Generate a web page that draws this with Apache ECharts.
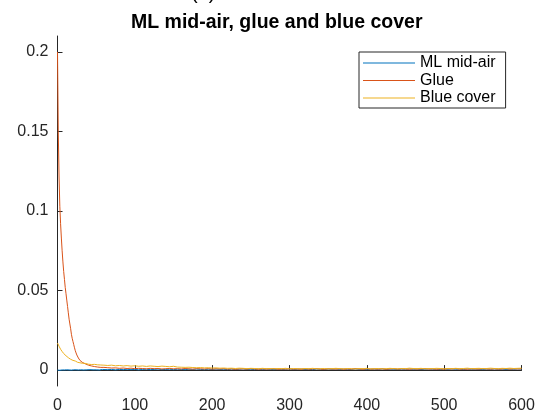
<!DOCTYPE html>
<html>
<head>
<meta charset="utf-8">
<script src="https://cdn.jsdelivr.net/npm/echarts@6/dist/echarts.min.js"></script>
<style>
  html, body { margin: 0; padding: 0; background: #fff; }
  #chart { width: 539px; height: 417px; }
</style>
</head>
<body>
<div id="chart"></div>
<script>
// sample positions (dense at the start where Glue drops fast)
var xs = [
  0,1,2,3,4,5,6,7,8,9,10,11,12,13,14,15,16,17,18,19,20,21,22,23,24,25,26,27,28,29,30,
  32,34,36,38,40,42,44,46,48,50,52,54,56,58,60,
  65,70,75,80,85,90,95,100,105,110,115,120,125,130,135,140,145,150,155,160,
  165,170,175,180,185,190,195,200,205,210,215,220,225,230,235,240,245,250,255,260,
  265,270,275,280,285,290,295,300,305,310,315,320,325,330,335,340,345,350,355,360,
  365,370,375,380,385,390,395,400,405,410,415,420,425,430,435,440,445,450,455,460,
  465,470,475,480,485,490,495,500,505,510,515,520,525,530,535,540,545,550,555,560,
  565,570,575,580,585,590,595,600
];

var midAir = [
  0.0000,0.0001,0.0000,-0.0001,0.0001,0.0000,0.0001,0.0002,0.0000,0.0001,0.0001,0.0000,0.0002,0.0001,0.0000,0.0001,
  0.0002,0.0001,0.0000,0.0002,0.0001,0.0002,0.0001,0.0000,0.0002,0.0001,0.0003,0.0001,0.0002,0.0001,0.0002,
  0.0002,0.0001,0.0003,0.0002,0.0001,0.0003,0.0002,0.0002,0.0004,0.0002,0.0003,0.0001,0.0003,0.0004,0.0002,
  0.0003,0.0004,0.0002,0.0004,0.0003,0.0005,0.0003,0.0004,0.0002,0.0004,
  0.0005,0.0003,0.0004,0.0006,0.0003,0.0004,0.0005,0.0003,0.0005,0.0004,
  0.0003,0.0005,0.0004,0.0006,0.0004,0.0003,0.0005,0.0004,0.0006,0.0004,
  0.0005,0.0003,0.0006,0.0004,0.0005,0.0007,0.0004,0.0005,0.0003,0.0006,
  0.0004,0.0006,0.0005,0.0003,0.0006,0.0004,0.0005,0.0007,0.0004,0.0005,
  0.0006,0.0004,0.0005,0.0003,0.0006,0.0005,0.0004,0.0006,0.0005,0.0007,
  0.0004,0.0006,0.0005,0.0004,0.0007,0.0005,0.0006,0.0004,0.0005,0.0006,
  0.0005,0.0007,0.0004,0.0006,0.0005,0.0004,0.0006,0.0005,0.0007,0.0005,
  0.0006,0.0004,0.0005,0.0007,0.0005,0.0006,0.0004,0.0006,0.0005,0.0007,
  0.0005,0.0006,0.0004,0.0007,0.0005,0.0006,0.0005,0.0004,0.0006,0.0005,
  0.0007,0.0005,0.0006,0.0004,0.0006,0.0005,0.0007,0.0006
];

var glue = [
  0.200,0.150,0.122,0.103,0.092,0.083,0.075,0.068,0.062,0.057,0.052,0.048,0.044,0.040,0.036,0.032,
  0.029,0.026,0.0225,0.020,0.018,0.016,0.014,0.0122,0.0108,0.0095,0.0086,0.0076,0.0069,0.0061,0.0056,
  0.0049,0.0043,0.0039,0.0034,0.0031,0.0029,0.0026,0.0025,0.0022,0.0021,0.0019,0.0020,0.0017,0.0016,0.0017,
  0.0015,0.0013,0.0014,0.0011,0.0013,0.0010,0.0012,0.0009,0.0011,0.0010,
  0.0008,0.0011,0.0009,0.0010,0.0007,0.0009,0.0010,0.0008,0.0009,0.0007,
  0.0010,0.0008,0.0006,0.0009,0.0008,0.0007,0.0009,0.0006,0.0008,0.0007,
  0.0009,0.0006,0.0008,0.0005,0.0007,0.0008,0.0006,0.0009,0.0007,0.0005,
  0.0008,0.0006,0.0007,0.0009,0.0005,0.0007,0.0006,0.0008,0.0006,0.0007,
  0.0005,0.0008,0.0006,0.0007,0.0009,0.0006,0.0005,0.0008,0.0007,0.0006,
  0.0008,0.0005,0.0007,0.0006,0.0009,0.0007,0.0005,0.0008,0.0006,0.0007,
  0.0006,0.0008,0.0005,0.0007,0.0009,0.0006,0.0008,0.0007,0.0005,0.0008,
  0.0006,0.0007,0.0009,0.0006,0.0008,0.0005,0.0007,0.0006,0.0008,0.0007,
  0.0009,0.0006,0.0007,0.0005,0.0008,0.0007,0.0006,0.0009,0.0007,0.0006,
  0.0008,0.0006,0.0007,0.0009,0.0006,0.0008,0.0007,0.0008
];

var blueCover = [
  0.0170,0.0158,0.0150,0.0139,0.0131,0.0126,0.0117,0.0112,0.0104,0.0099,0.0094,0.0090,0.0085,0.0083,0.0078,0.0075,
  0.0073,0.0068,0.0067,0.0063,0.0061,0.0060,0.0056,0.0057,0.0053,0.0052,0.0049,0.0050,0.0047,0.0046,0.0044,
  0.0043,0.0041,0.0042,0.0038,0.0037,0.0038,0.0035,0.0034,0.0036,0.0032,0.0033,0.0031,0.0032,0.0030,0.0031,
  0.0029,0.0031,0.0027,0.0029,0.0026,0.0028,0.0025,0.0027,0.0024,0.0026,
  0.0023,0.0026,0.0024,0.0022,0.0025,0.0023,0.0021,0.0024,0.0019,0.0018,
  0.0017,0.0018,0.0016,0.0015,0.0016,0.0014,0.0015,0.0013,0.0014,0.0012,
  0.0013,0.0011,0.0012,0.0010,0.0012,0.0011,0.0009,0.0011,0.0010,0.0009,
  0.0011,0.0009,0.0010,0.0008,0.0010,0.0009,0.0011,0.0008,0.0010,0.0009,
  0.0008,0.0010,0.0009,0.0011,0.0008,0.0009,0.0010,0.0008,0.0009,0.0011,
  0.0009,0.0008,0.0010,0.0009,0.0007,0.0010,0.0009,0.0011,0.0008,0.0009,
  0.0010,0.0008,0.0009,0.0011,0.0009,0.0008,0.0010,0.0009,0.0012,0.0010,
  0.0009,0.0011,0.0008,0.0010,0.0009,0.0011,0.0010,0.0008,0.0010,0.0009,
  0.0011,0.0009,0.0010,0.0012,0.0009,0.0010,0.0011,0.0009,0.0010,0.0012,
  0.0010,0.0009,0.0011,0.0010,0.0012,0.0010,0.0011,0.0012
];

var seriesNames = ['ML mid-air', 'Glue', 'Blue cover'];
var yTicks = [0, 0.05, 0.1, 0.15, 0.2];
var xTicks = [0, 100, 200, 300, 400, 500, 600];

function pairs(vals) {
    var out = [];
    for (var i = 0; i < xs.length; i++) {
        out.push([xs[i], vals[i]]);
    }
    return out;
}

var axisColor = '#262626';
var font = '"Liberation Sans", Arial, Helvetica, sans-serif';

var chart = echarts.init(document.getElementById('chart'));

chart.setOption({
    backgroundColor: '#fff',
    animation: false,
    color: ['#0072BD', '#D95319', '#EDB120'],
    title: {
        text: 'ML mid-air, glue and blue cover',
        left: 131,
        top: 13,
        padding: 0,
        textStyle: {
            fontFamily: font,
            fontSize: 19.5,
            fontWeight: 'bold',
            color: '#000'
        }
    },
    // the figure label above the title is cut off at the top edge
    graphic: [{
        type: 'text',
        left: 191,
        top: -17,
        style: {
            text: '(a)',
            font: '20px ' + font,
            fill: '#000'
        }
    }],
    legend: {
        data: seriesNames,
        orient: 'vertical',
        left: 359,
        top: 52,
        icon: 'path://M0 0H52V1H0Z',
        itemWidth: 52,
        itemHeight: 14,
        itemGap: 1.5,
        padding: [3, 10, 2, 4],
        borderColor: axisColor,
        borderWidth: 1,
        backgroundColor: '#fff',
        textStyle: {
            fontFamily: font,
            fontSize: 16,
            lineHeight: 16,
            color: '#000'
        }
    },
    grid: {
        left: 57.5,
        right: 17.5,
        top: 36,
        bottom: 31,
        containLabel: false
    },
    xAxis: {
        type: 'value',
        min: 0,
        max: 600,
        interval: 100,
        splitLine: { show: false },
        axisLine: { lineStyle: { color: axisColor, width: 1 } },
        axisTick: { inside: true, length: 5, lineStyle: { color: axisColor } },
        axisLabel: {
            margin: 12,
            fontFamily: font,
            fontSize: 16,
            color: axisColor,
            customValues: xTicks
        }
    },
    yAxis: {
        type: 'value',
        min: -0.01,
        max: 0.21,
        splitLine: { show: false },
        axisLine: { show: true, lineStyle: { color: axisColor, width: 1 } },
        axisTick: { show: true, inside: true, length: 5, customValues: yTicks, lineStyle: { color: axisColor } },
        axisLabel: {
            margin: 9,
            fontFamily: font,
            fontSize: 16,
            color: axisColor,
            customValues: yTicks
        }
    },
    series: [
        { name: seriesNames[0], type: 'line', data: pairs(midAir), symbol: 'none', lineStyle: { width: 1 } },
        { name: seriesNames[1], type: 'line', data: pairs(glue), symbol: 'none', lineStyle: { width: 1 } },
        { name: seriesNames[2], type: 'line', data: pairs(blueCover), symbol: 'none', lineStyle: { width: 1 } }
    ]
});
</script>
</body>
</html>
